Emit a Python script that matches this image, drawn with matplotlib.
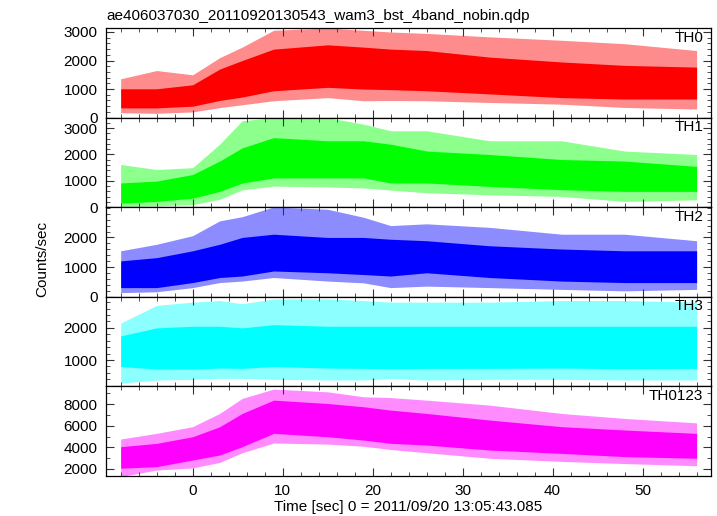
"""Stacked WAM light curves (TH0..TH3, TH0123) in QDP/PLT style."""

import matplotlib

matplotlib.use("Agg")
import matplotlib.pyplot as plt
from matplotlib.ticker import MultipleLocator

plt.rcParams["font.family"] = ["Liberation Sans", "DejaVu Sans"]

TITLE = "ae406037030_20110920130543_wam3_bst_4band_nobin.qdp"
XLABEL = "Time [sec] 0 = 2011/09/20 13:05:43.085"
YLABEL = "Counts/sec"

times = [-8, -4, 0, 3, 5.5, 9, 15, 19, 22, 26, 33, 41, 48, 56]

# per band: dense core low/high and spike extremes low/high (counts/sec)
th0_core_lo = [340, 340, 400, 600, 720, 940, 1060, 1000, 980, 940, 830, 700, 650, 650]
th0_core_hi = [1010, 1010, 1150, 1700, 2000, 2400, 2550, 2470, 2400, 2350, 2120, 1950, 1830, 1770]
th0_spk_lo = [170, 150, 200, 350, 450, 590, 700, 590, 600, 590, 530, 470, 355, 300]
th0_spk_hi = [1360, 1650, 1500, 2100, 2470, 3060, 3140, 3060, 3000, 2950, 2830, 2710, 2590, 2350]

th1_core_lo = [150, 220, 345, 600, 920, 1110, 1110, 1110, 920, 920, 790, 665, 600, 600]
th1_core_hi = [920, 990, 1240, 1750, 2250, 2640, 2520, 2520, 2390, 2130, 2000, 1810, 1750, 1550]
th1_spk_lo = [30, 50, 100, 300, 660, 800, 770, 730, 650, 550, 470, 410, 220, 280]
th1_spk_hi = [1620, 1430, 1500, 2390, 3280, 3400, 3400, 3150, 2900, 2900, 2520, 2520, 2130, 2000]

th2_core_lo = [310, 310, 480, 650, 700, 870, 810, 750, 700, 810, 650, 530, 480, 480]
th2_core_hi = [1210, 1320, 1550, 1770, 2000, 2110, 2000, 2000, 1940, 1890, 1720, 1610, 1550, 1550]
th2_spk_lo = [140, 170, 310, 480, 530, 650, 530, 470, 310, 360, 310, 250, 200, 250]
th2_spk_hi = [1550, 1770, 2060, 2560, 2700, 3030, 2950, 2680, 2400, 2460, 2340, 2110, 2110, 1890]

th3_core_lo = [800, 720, 720, 750, 740, 800, 750, 740, 730, 740, 740, 750, 730, 740]
th3_core_hi = [1750, 2000, 2050, 2050, 2000, 2100, 2050, 2050, 2050, 2050, 2050, 2050, 2050, 2050]
th3_spk_lo = [280, 380, 400, 430, 430, 400, 380, 380, 420, 380, 400, 400, 380, 380]
th3_spk_hi = [2150, 2700, 2800, 2850, 2750, 2900, 2900, 2850, 2800, 2800, 2800, 2850, 2850, 2800]

sum_core_lo = [2070, 2215, 2830, 3290, 4060, 5290, 4980, 4670, 4370, 4210, 3750, 3440, 3140, 2990]
sum_core_hi = [4060, 4365, 4980, 5900, 7130, 8360, 8050, 7750, 7440, 7130, 6520, 5910, 5600, 5290]
sum_spk_lo = [1290, 1900, 2100, 2600, 3500, 4400, 4300, 4100, 3800, 3500, 2990, 2700, 2500, 2300]
sum_spk_hi = [4770, 5290, 5910, 7130, 8520, 9380, 9130, 8670, 8600, 8360, 7900, 7130, 6670, 6260]

band_names = ["TH0", "TH1", "TH2", "TH3", "TH0123"]
band_colors = ["#ff0000", "#00ff00", "#0000ff", "#00ffff", "#ff00ff"]
band_ylims = [(0, 3140), (0, 3400), (0, 3020), (180, 2966), (1350, 9630)]
band_yticks = [
    [0, 1000, 2000, 3000],
    [0, 1000, 2000, 3000],
    [0, 1000, 2000],
    [1000, 2000],
    [2000, 4000, 6000, 8000],
]
band_yminor = [200, 200, 200, 200, 1000]
bands = [
    (th0_core_lo, th0_core_hi, th0_spk_lo, th0_spk_hi),
    (th1_core_lo, th1_core_hi, th1_spk_lo, th1_spk_hi),
    (th2_core_lo, th2_core_hi, th2_spk_lo, th2_spk_hi),
    (th3_core_lo, th3_core_hi, th3_spk_lo, th3_spk_hi),
    (sum_core_lo, sum_core_hi, sum_spk_lo, sum_spk_hi),
]
x_ticks = [0, 10, 20, 30, 40, 50]

W, H = 717, 516
fig = plt.figure(figsize=(W / 100, H / 100), dpi=100)
gs = fig.add_gridspec(
    5, 1, left=106 / W, right=711 / W, top=1 - 28 / H, bottom=1 - 476 / H, hspace=0
)

for i, (name, color, ylim, yt, ymin, band) in enumerate(
    zip(band_names, band_colors, band_ylims, band_yticks, band_yminor, bands)
):
    ax = fig.add_subplot(gs[i])
    core_lo, core_hi, spk_lo, spk_hi = band
    ax.fill_between(times, spk_lo, spk_hi, color=color, alpha=0.45, linewidth=0)
    ax.fill_between(times, core_lo, core_hi, color=color, linewidth=0)
    ax.set_xlim(-9.63, 57.6)
    ax.set_ylim(*ylim)
    ax.set_xticks(x_ticks)
    ax.xaxis.set_minor_locator(MultipleLocator(2))
    ax.set_yticks(yt)
    ax.yaxis.set_minor_locator(MultipleLocator(ymin))
    ax.tick_params(which="both", direction="in", top=True, right=True,
                   labelsize=11, pad=6, color="#333333")
    ax.tick_params(which="major", length=6, width=0.8)
    ax.tick_params(which="minor", length=3, width=0.6)
    if i < 4:
        ax.tick_params(labelbottom=False)
    for s in ax.spines.values():
        s.set_linewidth(0.9)
    ax.text(0.987, 0.97, name, transform=ax.transAxes, ha="right", va="top",
            fontsize=11)

fig.text(106 / W, 1 - 20 / H, TITLE, ha="left", va="baseline", fontsize=11)
fig.text(408.5 / W, 1 - 507 / H, XLABEL, ha="center", va="center", fontsize=11)
fig.text(42 / W, 1 - 259 / H, YLABEL, ha="center", va="center", rotation=90,
         fontsize=11)

fig.savefig("out.png", dpi=100)
